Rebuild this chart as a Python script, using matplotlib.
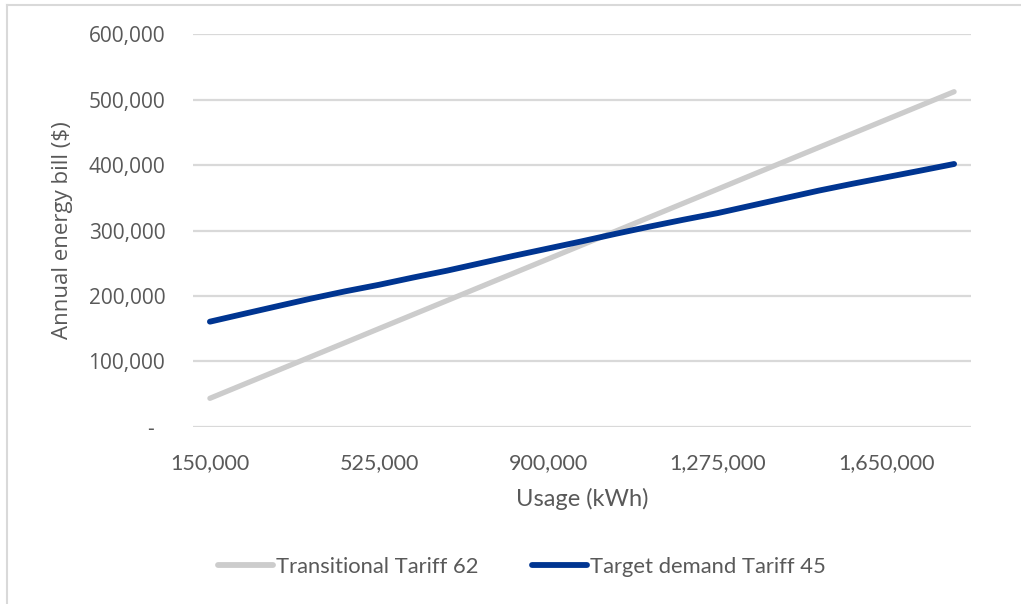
import matplotlib
matplotlib.use("Agg")
import matplotlib.pyplot as plt
from matplotlib.lines import Line2D
from matplotlib.ticker import FuncFormatter, FixedLocator

# Usage categories (kWh), one per 75,000 kWh step
usage_kwh = [150000, 225000, 300000, 375000, 450000, 525000, 600000, 675000,
             750000, 825000, 900000, 975000, 1050000, 1125000, 1200000,
             1275000, 1350000, 1425000, 1500000, 1575000, 1650000, 1725000,
             1800000]

# Annual bill ($) under each tariff
transitional_62 = [43400, 64700, 86000, 107300, 128600, 150000, 171300,
                   192600, 213900, 235200, 256500, 277800, 299100, 320400,
                   341700, 363000, 384400, 405700, 427000, 448300, 469600,
                   490900, 512200]
target_demand_45 = [160600, 172500, 184300, 196000, 207000, 217000, 228000,
                    238500, 250000, 261500, 272500, 283500, 295000, 306000,
                    316500, 326500, 338000, 349500, 361000, 371500, 381500,
                    391500, 401700]

series_names = ["Transitional Tariff 62", "Target demand Tariff 45"]
series_colors = ["#cccccc", "#003591"]
label_every = 5

TEXT = "#595959"
GRID = "#d9d9d9"
NARROW = ["Lato", "DejaVu Sans"]
WIDE = ["Open Sans", "DejaVu Sans"]

W, H = 1021, 604
fig = plt.figure(figsize=(W / 100, H / 100), dpi=100)
fig.patch.set_facecolor("white")

# chart frame (top and left edges)
fig.add_artist(Line2D([7 / W, 1], [1 - 5 / H, 1 - 5 / H], color=GRID, lw=1.5))
fig.add_artist(Line2D([7 / W, 7 / W], [0, 1 - 5 / H], color=GRID, lw=1.5))

left, right = 193 / W, 971 / W
top, bottom = 1 - 34.3 / H, 1 - 426.7 / H
ax = fig.add_axes([left, bottom, right - left, top - bottom])

idx = list(range(len(usage_kwh)))
ax.plot(idx, transitional_62, color=series_colors[0], lw=3.8,
        solid_capstyle="round", solid_joinstyle="round", zorder=3)
ax.plot(idx, target_demand_45, color=series_colors[1], lw=4.2,
        solid_capstyle="round", solid_joinstyle="round", zorder=4)

ax.set_xlim(-0.5, len(usage_kwh) - 0.5)
ax.set_ylim(0, 600000)

ax.yaxis.set_major_locator(FixedLocator([0, 100000, 200000, 300000, 400000,
                                         500000, 600000]))
ax.yaxis.set_major_formatter(FuncFormatter(
    lambda v, p: "-  " if v == 0 else f"{int(v):,}"))
tick_pos = idx[::label_every]
ax.set_xticks(tick_pos)
ax.set_xticklabels([f"{usage_kwh[i]:,}" for i in tick_pos])

ax.grid(axis="y", color=GRID, lw=1.6)
ax.set_axisbelow(True)
for s in ax.spines.values():
    s.set_visible(False)
ax.tick_params(axis="both", length=0)
ax.tick_params(axis="y", pad=20, labelcolor=TEXT)
ax.tick_params(axis="x", pad=19, labelcolor=TEXT)
for t in ax.get_yticklabels():
    t.set_fontfamily(WIDE)
    t.set_fontsize(15)
for t in ax.get_xticklabels():
    t.set_fontfamily(NARROW)
    t.set_fontsize(15.5)

ax.set_ylabel("Annual energy bill ($)", family=WIDE, fontsize=16,
              color=TEXT, labelpad=11)
ax.set_xlabel("Usage (kWh)", family=NARROW, fontsize=17, color=TEXT,
              labelpad=11)

handles = [Line2D([0], [0], color=c, lw=4.2, solid_capstyle="round")
           for c in series_colors]
leg = fig.legend(handles, series_names, loc="center",
                 bbox_to_anchor=(522 / W, 1 - 567 / H), ncol=2,
                 frameon=False, prop={"family": NARROW, "size": 15.8},
                 handlelength=2.5, handletextpad=0.15, columnspacing=2.4)
for t in leg.get_texts():
    t.set_color(TEXT)

fig.savefig("out.png", dpi=100, facecolor="white")
